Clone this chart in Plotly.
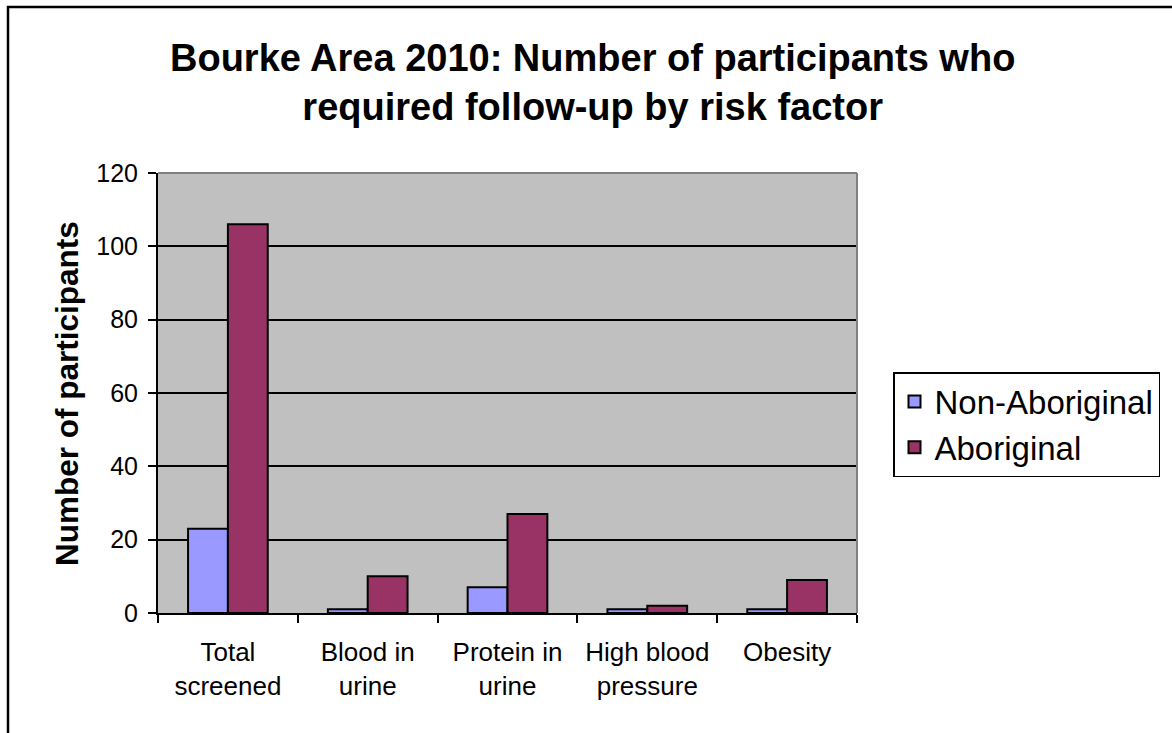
import plotly.graph_objects as go

categories = ["Total<br>screened", "Blood in<br>urine", "Protein in<br>urine", "High blood<br>pressure", "Obesity"]
non_aboriginal = [23, 1, 7, 1, 1]
aboriginal = [106, 10, 27, 2, 9]
y_ticks = [0, 20, 40, 60, 80, 100, 120]

W, H = 1172, 733
L, R, T, B = 158, 857, 173, 613
pw, ph = R - L, B - T

def px(x):
    return (x - L) / pw

def py(y):
    return (B - y) / ph

fig = go.Figure()
fig.add_trace(go.Bar(name="Non-Aboriginal", x=categories, y=non_aboriginal,
                     marker=dict(color="#9999FF", line=dict(color="black", width=2))))
fig.add_trace(go.Bar(name="Aboriginal", x=categories, y=aboriginal,
                     marker=dict(color="#993366", line=dict(color="black", width=2))))

font = "Liberation Sans, Arial, sans-serif"

fig.update_layout(
    width=W, height=H,
    margin=dict(l=L, r=W - R, t=T, b=H - B, pad=0),
    paper_bgcolor="white",
    plot_bgcolor="#C0C0C0",
    barmode="group",
    bargap=0.43,
    bargroupgap=0,
    font=dict(family=font, color="black"),
    showlegend=True,
    legend=dict(x=px(893), y=py(372), xanchor="left", yanchor="top",
                bordercolor="black", borderwidth=1.5, bgcolor="white",
                font=dict(size=33, family=font), tracegroupgap=0,
                itemsizing="constant"),
    xaxis=dict(showgrid=False, showline=True, linecolor="black", linewidth=2,
               ticks="outside", ticklen=8, tickwidth=2, tickcolor="black",
               tickson="boundaries", tickfont=dict(size=26, family=font),
               ticklabelstandoff=15, mirror=False, fixedrange=True),
    yaxis=dict(range=[0, 120], tickvals=y_ticks, showgrid=True, gridcolor="black",
               gridwidth=2, showline=True, linecolor="black", linewidth=2,
               ticks="outside", ticklen=8, tickwidth=2, tickcolor="black",
               tickfont=dict(size=25, family=font), ticklabelstandoff=5,
               zeroline=False, fixedrange=True),
    annotations=[
        dict(text="<b>Bourke Area 2010: Number of participants who<br>required follow-up by risk factor</b>",
             xref="paper", yref="paper", x=px(592), y=py(83), xanchor="center", yanchor="middle",
             showarrow=False, font=dict(size=38, family=font, color="black")),
        dict(text="<b>Number of participants</b>", textangle=-90,
             xref="paper", yref="paper", x=px(67), y=py(394), xanchor="center", yanchor="middle",
             showarrow=False, font=dict(size=31.5, family=font, color="black")),
    ],
    shapes=[
        dict(type="line", xref="paper", yref="paper", x0=0, y0=1, x1=1, y1=1,
             line=dict(color="#808080", width=2)),
        dict(type="line", xref="paper", yref="paper", x0=1, y0=0, x1=1, y1=1,
             line=dict(color="#808080", width=2)),
        dict(type="rect", xref="paper", yref="paper", x0=px(8), y0=py(745), x1=px(1185), y1=py(7),
             line=dict(color="black", width=2.5), fillcolor="rgba(0,0,0,0)", layer="below"),
    ],
)

fig.write_html("out.html", config={"displayModeBar": False},
               post_script="document.body.style.margin='0px';")
